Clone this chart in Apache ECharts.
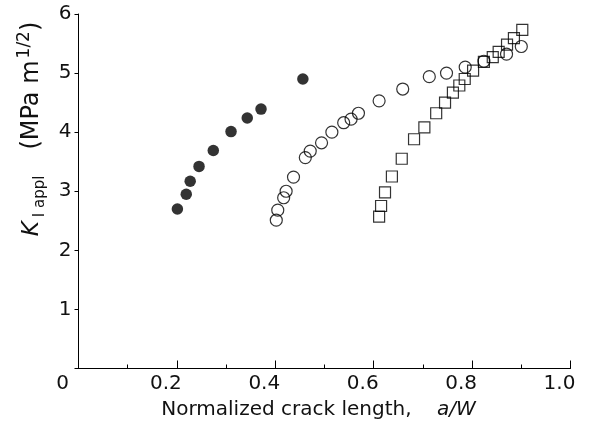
<!DOCTYPE html>
<html>
<head>
<meta charset="utf-8">
<script src="https://cdn.jsdelivr.net/npm/echarts@6/dist/echarts.min.js"></script>
<style>
  html, body { margin: 0; padding: 0; background: #fff; }
  #chart { width: 592px; height: 432px; }
</style>
</head>
<body>
<div id="chart"></div>
<script>
// Normalized crack length a/W (x) and apparent stress intensity K_I appl (y)
const filledX = [0.201, 0.219, 0.227, 0.245, 0.274, 0.310, 0.343, 0.371, 0.456];
const filledY = [2.70, 2.95, 3.17, 3.42, 3.69, 4.01, 4.24, 4.39, 4.90];

const openCircleX = [0.402, 0.405, 0.417, 0.422, 0.437, 0.461, 0.471, 0.494, 0.515, 0.539,
                     0.554, 0.569, 0.611, 0.659, 0.713, 0.748, 0.786, 0.824, 0.870, 0.900];
const openCircleY = [2.51, 2.68, 2.89, 3.00, 3.24, 3.57, 3.68, 3.82, 4.00, 4.16,
                     4.22, 4.32, 4.53, 4.73, 4.94, 5.00, 5.10, 5.20, 5.32, 5.45];

const squareX = [0.611, 0.615, 0.623, 0.637, 0.657, 0.682, 0.703, 0.727, 0.745, 0.761,
                 0.774, 0.785, 0.802, 0.824, 0.842, 0.854, 0.871, 0.885, 0.902];
const squareY = [2.57, 2.75, 2.98, 3.25, 3.55, 3.88, 4.08, 4.32, 4.50, 4.67,
                 4.79, 4.90, 5.04, 5.19, 5.27, 5.36, 5.48, 5.59, 5.73];

const xTickLabels = ['0', '0.2', '0.4', '0.6', '0.8', '1.0'];
const yTickLabels = ['', '1', '2', '3', '4', '5', '6'];

const FONT = 'DejaVu Sans, sans-serif';
const INK = '#111';
const pairs = (xs, ys) => xs.map((x, i) => [x, ys[i]]);

const chart = echarts.init(document.getElementById('chart'), null, { renderer: 'canvas' });

chart.setOption({
  animation: false,
  backgroundColor: '#fff',
  grid: { left: 78.5, right: 21.5, top: 14, bottom: 63.5, containLabel: false },
  xAxis: {
    type: 'value', min: 0, max: 1, interval: 0.2,
    axisLine: { show: true, lineStyle: { color: '#000', width: 1 } },
    axisTick: { show: true, inside: true, length: 8, lineStyle: { color: '#000', width: 1 } },
    minorTick: { show: true, splitNumber: 2, length: 4, lineStyle: { color: '#000', width: 1 } },
    splitLine: { show: false },
    axisLabel: {
      margin: 5, color: INK, fontFamily: FONT, fontSize: 20,
      padding: [0, 22, 0, 0],
      formatter: (v) => {
        const i = Math.round(v / 0.2);
        return i === 0 ? '{z|' + xTickLabels[0] + '}' : xTickLabels[i];
      },
      rich: { z: { fontFamily: FONT, fontSize: 20, color: INK, padding: [0, 10, 0, 0] } }
    },
    name: '{n|Normalized crack length,    }{i|a/W}',
    nameLocation: 'middle', nameGap: 31,
    nameTextStyle: {
      padding: [0, 12, 0, 0],
      rich: {
        n: { fontFamily: FONT, fontSize: 20, color: INK },
        i: { fontFamily: FONT, fontSize: 20, fontStyle: 'italic', color: INK }
      }
    }
  },
  yAxis: {
    type: 'value', min: 0, max: 6, interval: 1,
    axisLine: { show: true, lineStyle: { color: '#000', width: 1 } },
    axisTick: { show: true, inside: false, length: 4, lineStyle: { color: '#000', width: 1 } },
    splitLine: { show: false },
    axisLabel: {
      margin: 7, color: INK, fontFamily: FONT, fontSize: 20,
      formatter: (v) => yTickLabels[Math.round(v)]
    }
  },
  graphic: [{
    type: 'text', x: 32, y: 129, rotation: Math.PI / 2,
    style: {
      text: '{k|K}{s|I appl}{b|(MPa m}{p|1/2}{c|)}',
      align: 'center', verticalAlign: 'middle',
      rich: {
        k: { fontFamily: FONT, fontSize: 23, fontStyle: 'italic', fill: INK, lineHeight: 32, verticalAlign: 'middle' },
        s: { fontFamily: FONT, fontSize: 15, fill: INK, lineHeight: 15, verticalAlign: 'bottom', padding: [0, 0, 0, 4] },
        b: { fontFamily: FONT, fontSize: 24, fill: INK, lineHeight: 32, verticalAlign: 'middle', padding: [0, 0, 0, 26] },
        p: { fontFamily: FONT, fontSize: 17, fill: INK, lineHeight: 17, verticalAlign: 'top', padding: [0, 0, 0, 2] },
        c: { fontFamily: FONT, fontSize: 24, fill: INK, lineHeight: 32, verticalAlign: 'middle' }
      }
    }
  }],
  series: [
    {
      type: 'scatter', data: pairs(filledX, filledY),
      symbol: 'circle', symbolSize: 11.5,
      itemStyle: { color: '#000' }
    },
    {
      type: 'scatter', data: pairs(openCircleX, openCircleY),
      symbol: 'circle', symbolSize: 12,
      itemStyle: { color: 'rgba(0,0,0,0)', borderColor: '#000', borderWidth: 1.2 }
    },
    {
      type: 'scatter', data: pairs(squareX, squareY),
      symbol: 'rect', symbolSize: 11,
      itemStyle: { color: 'rgba(0,0,0,0)', borderColor: '#000', borderWidth: 1.2 }
    }
  ]
});
</script>
</body>
</html>
